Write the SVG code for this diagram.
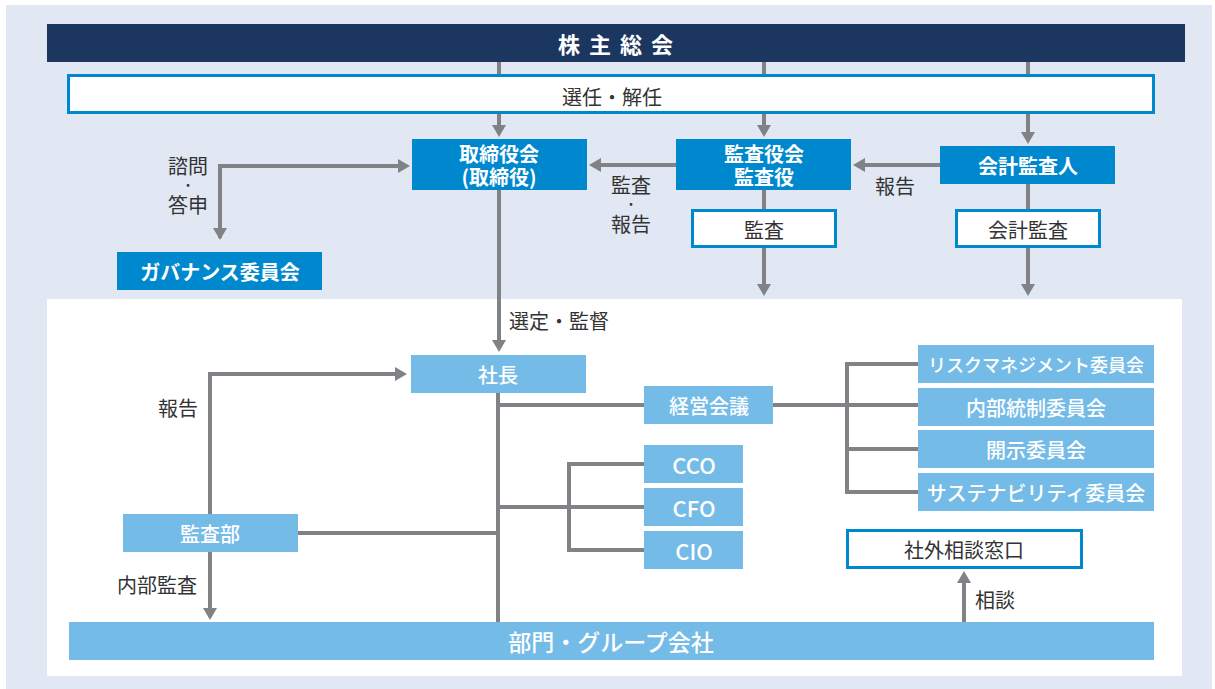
<svg xmlns="http://www.w3.org/2000/svg" width="1215" height="689" viewBox="0 0 1215 689">
<defs>
<style>
.ln{fill:none;stroke:#808285;stroke-width:4}
.ar{marker-end:url(#ah)}
.navy{fill:#1B365F}
.blue{fill:#0088CF}
.lb{fill:#74BCE7}
.wb{fill:#fff;stroke:#0088CF;stroke-width:3}
text{font-family:"Noto Sans CJK JP","Noto Sans",sans-serif;text-anchor:middle;dominant-baseline:central}
.tw{fill:#fff;font-weight:bold;font-size:20px}
.tl{fill:#fff;font-weight:500;font-size:20px}
.td{fill:#333;font-size:20px}
.lab{fill:#333;font-size:20px}
.dot{font-size:13px}
</style>
<marker id="ah" viewBox="0 0 12 14" markerWidth="12" markerHeight="14" refX="2" refY="7" orient="auto" markerUnits="userSpaceOnUse">
<path d="M0,0 L12,7 L0,14 z" fill="#808285"/>
</marker>
<marker id="ahs" viewBox="0 0 12 14" markerWidth="12" markerHeight="14" refX="10" refY="7" orient="auto-start-reverse" markerUnits="userSpaceOnUse">
<path d="M0,0 L12,7 L0,14 z" fill="#808285"/>
</marker>
</defs>
<rect x="6" y="5" width="1206" height="684" fill="#E1E8F4"/>
<rect x="47" y="299" width="1135" height="377" fill="#fff"/>

<g id="connectors">
<line class="ln" x1="499" y1="62" x2="499" y2="74"/>
<line class="ln" x1="764" y1="62" x2="764" y2="74"/>
<line class="ln" x1="1028" y1="62" x2="1028" y2="74"/>
<line class="ln ar" x1="499" y1="114" x2="499" y2="127"/>
<line class="ln ar" x1="764" y1="114" x2="764" y2="127"/>
<line class="ln ar" x1="1028" y1="114" x2="1028" y2="134"/>
<line class="ln ar" x1="940" y1="165" x2="863" y2="165"/>
<line class="ln ar" x1="676" y1="165" x2="599" y2="165"/>
<path class="ln ar" d="M220,238 L220,166 L400,166" style="marker-start:url(#ahs)"/>
<line class="ln ar" x1="764" y1="190" x2="764" y2="286"/>
<line class="ln ar" x1="1028" y1="184" x2="1028" y2="286"/>
<line class="ln ar" x1="499" y1="190" x2="499" y2="342"/>
<path class="ln ar" d="M210,514 L210,374 L397,374"/>
<line class="ln ar" x1="210" y1="552" x2="210" y2="610"/>
<line class="ln" x1="498" y1="393" x2="498" y2="622"/>
<line class="ln" x1="498" y1="405" x2="644" y2="405"/>
<line class="ln" x1="298" y1="533" x2="498" y2="533"/>
<line class="ln" x1="498" y1="507" x2="569" y2="507"/>
<path class="ln" d="M644,464 L569,464 L569,550 L644,550"/>
<line class="ln" x1="569" y1="507" x2="644" y2="507"/>
<line class="ln" x1="773" y1="405" x2="918" y2="405"/>
<path class="ln" d="M918,364 L847,364 L847,492 L918,492"/>
<line class="ln" x1="847" y1="449" x2="918" y2="449"/>
<line class="ln ar" x1="964" y1="622" x2="964" y2="581"/>
</g>

<g id="shareholders"><rect class="navy" x="47" y="24" width="1138" height="38"/><text class="tw" x="620" y="43" style="font-size:22px;letter-spacing:9px">株主総会</text></g>
<g id="appoint"><rect class="wb" x="68.5" y="75.5" width="1085" height="37"/><text class="td" x="612" y="96">選任・解任</text></g>
<g id="board"><rect class="blue" x="412" y="139" width="175" height="51"/><text class="tw" x="499" y="153">取締役会</text><text class="tw" x="499" y="176">(取締役)</text></g>
<g id="auditboard"><rect class="blue" x="676" y="139" width="175" height="51"/><text class="tw" x="764" y="153">監査役会</text><text class="tw" x="764" y="176">監査役</text></g>
<g id="accountant"><rect class="blue" x="940" y="146" width="175" height="38"/><text class="tw" x="1028" y="165">会計監査人</text></g>
<g id="audit"><rect class="wb" x="692.5" y="210.5" width="143" height="36"/><text class="td" x="764" y="229">監査</text></g>
<g id="accaudit"><rect class="wb" x="956.5" y="210.5" width="143" height="36"/><text class="td" x="1028" y="229">会計監査</text></g>
<g id="governance"><rect class="blue" x="117" y="252" width="205" height="38"/><text class="tw" x="220" y="271">ガバナンス委員会</text></g>
<g id="president"><rect class="lb" x="411" y="355" width="175" height="38"/><text class="tl" x="498" y="374">社長</text></g>
<g id="mgmt"><rect class="lb" x="644" y="386" width="129" height="38"/><text class="tl" x="709" y="405">経営会議</text></g>
<g id="cco"><rect class="lb" x="644" y="445" width="99" height="38"/><text class="tl" x="694" y="464" style="font-size:22px">CCO</text></g>
<g id="cfo"><rect class="lb" x="644" y="488" width="99" height="38"/><text class="tl" x="694" y="507" style="font-size:22px">CFO</text></g>
<g id="cio"><rect class="lb" x="644" y="531" width="99" height="38"/><text class="tl" x="694" y="550" style="font-size:22px">CIO</text></g>
<g id="risk"><rect class="lb" x="918" y="345" width="236" height="38"/><text class="tl" x="1036" y="364" style="font-size:18px">リスクマネジメント委員会</text></g>
<g id="internal"><rect class="lb" x="918" y="388" width="236" height="38"/><text class="tl" x="1036" y="407">内部統制委員会</text></g>
<g id="disclosure"><rect class="lb" x="918" y="430" width="236" height="38"/><text class="tl" x="1036" y="449">開示委員会</text></g>
<g id="sustain"><rect class="lb" x="918" y="473" width="236" height="38"/><text class="tl" x="1036" y="492">サステナビリティ委員会</text></g>
<g id="consult"><rect class="wb" x="847.5" y="530.5" width="234" height="37"/><text class="td" x="964" y="549">社外相談窓口</text></g>
<g id="auditdept"><rect class="lb" x="123" y="514" width="175" height="38"/><text class="tl" x="210" y="533">監査部</text></g>
<g id="depts"><rect class="lb" x="69" y="622" width="1085" height="38"/><text class="tl" x="611" y="641" style="font-size:23px">部門・グループ会社</text></g>

<g id="labels">
<text class="lab"><tspan x="188" y="165">諮問</tspan><tspan class="dot" x="188" y="184">・</tspan><tspan x="188" y="204">答申</tspan></text>
<text class="lab"><tspan x="631" y="184">監査</tspan><tspan class="dot" x="631" y="203">・</tspan><tspan x="631" y="223">報告</tspan></text>
<text class="lab" x="895" y="185">報告</text>
<text class="lab" x="509" y="320" style="text-anchor:start">選定・監督</text>
<text class="lab" x="178" y="407">報告</text>
<text class="lab" x="157" y="584">内部監査</text>
<text class="lab" x="975" y="599" style="text-anchor:start">相談</text>
</g>
</svg>
